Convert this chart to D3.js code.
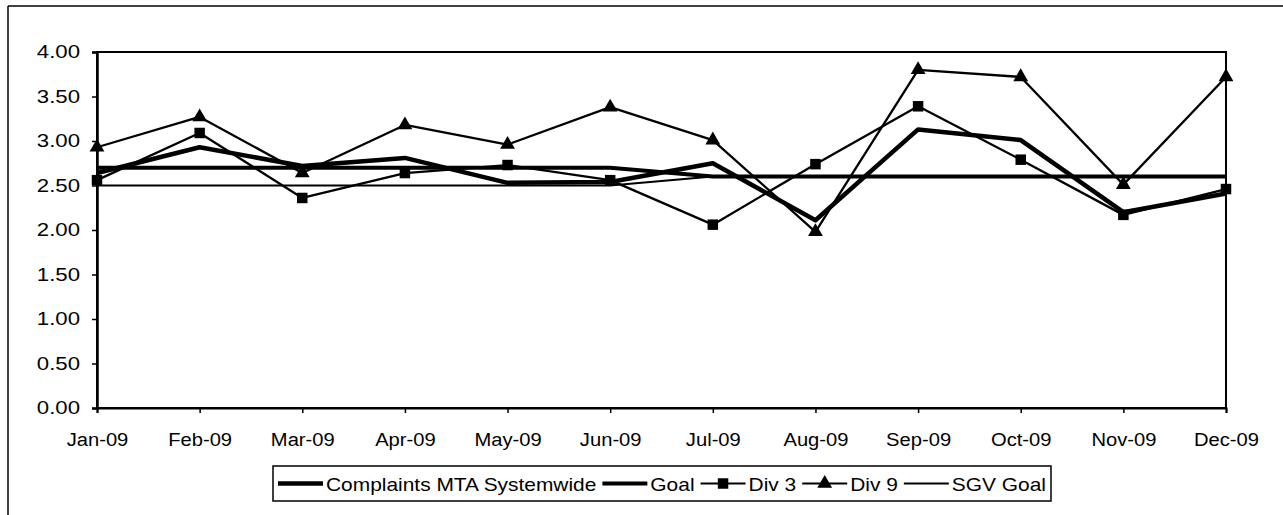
<!DOCTYPE html>
<html>
<head>
<meta charset="utf-8">
<script src="https://cdn.jsdelivr.net/npm/d3@7"></script>
<style>
  html, body { margin: 0; padding: 0; background: #fff; }
  svg { display: block; }
  text { font-family: "Liberation Sans", Arial, sans-serif; fill: #000; }
</style>
</head>
<body>
<svg id="chart" width="1283" height="515"></svg>
<script>
const months = ["Jan-09","Feb-09","Mar-09","Apr-09","May-09","Jun-09","Jul-09","Aug-09","Sep-09","Oct-09","Nov-09","Dec-09"];
const mtaSystemwide = [2.64, 2.93, 2.72, 2.81, 2.53, 2.54, 2.75, 2.11, 3.13, 3.01, 2.20, 2.41];
const goal          = [2.70, 2.70, 2.70, 2.70, 2.70, 2.70, 2.60, 2.60, 2.60, 2.60, 2.60, 2.60];
const div3          = [2.56, 3.09, 2.36, 2.64, 2.73, 2.56, 2.06, 2.74, 3.39, 2.79, 2.17, 2.46];
const div9          = [2.93, 3.27, 2.64, 3.18, 2.96, 3.38, 3.01, 1.98, 3.80, 3.72, 2.51, 3.72];
const sgvGoal       = [2.50, 2.50, 2.50, 2.50, 2.50, 2.50, 2.60, 2.60, 2.60, 2.60, 2.60, 2.60];
const yTicks = [0, 0.5, 1, 1.5, 2, 2.5, 3, 3.5, 4];
const legendLabels = ["Complaints MTA Systemwide", "Goal", "Div 3", "Div 9", "SGV Goal"];

const svg = d3.select("#chart");
const W = 1283, H = 515;
const plot = { left: 97, right: 1226, top: 52, bottom: 408 };

function stretchText(sel, factor) {
  let total = 0;
  sel.each(function() {
    const len = this.getComputedTextLength();
    total = len * factor;
    d3.select(this).attr("textLength", len * factor).attr("lengthAdjust", "spacingAndGlyphs");
  });
  return total;
}

// outer frame (scanned page border)
svg.append("line").attr("x1", 8).attr("y1", 6).attr("x2", W).attr("y2", 6).attr("stroke", "#000").attr("stroke-width", 1.5);
svg.append("line").attr("x1", 8).attr("y1", 6).attr("x2", 8).attr("y2", H).attr("stroke", "#000").attr("stroke-width", 1.5);

const x = d3.scalePoint().domain(months).range([plot.left, plot.right]);
const y = d3.scaleLinear().domain([0, 4]).range([plot.bottom, plot.top]);

// plot area border
svg.append("rect")
  .attr("x", plot.left).attr("y", plot.top)
  .attr("width", plot.right - plot.left).attr("height", plot.bottom - plot.top)
  .attr("fill", "none").attr("stroke", "#000").attr("stroke-width", 2);

// y axis
const yAxis = svg.append("g").attr("transform", `translate(${plot.left},0)`)
  .call(d3.axisLeft(y).tickValues(yTicks).tickFormat(d3.format(".2f")).tickSize(5).tickPadding(12));
yAxis.select(".domain").attr("stroke-width", 2.5);
yAxis.selectAll(".tick line").attr("stroke-width", 1.5);
yAxis.selectAll("text").attr("font-size", 18.5).attr("font-family", "Liberation Sans, Arial, sans-serif")
  .each(function() { stretchText(d3.select(this), 1.2); });

// x axis
const xAxis = svg.append("g").attr("transform", `translate(0,${plot.bottom})`)
  .call(d3.axisBottom(x).tickSize(5).tickPadding(20));
xAxis.select(".domain").attr("stroke-width", 2);
xAxis.selectAll(".tick line").attr("stroke-width", 1.5);
xAxis.selectAll("text").attr("font-size", 18).attr("font-family", "Liberation Sans, Arial, sans-serif")
  .each(function() { stretchText(d3.select(this), 1.12); });

const line = d3.line().x((d, i) => x(months[i])).y(d => y(d));

const series = [
  { name: legendLabels[4], values: sgvGoal, width: 2, marker: null },
  { name: legendLabels[1], values: goal, width: 4, marker: null },
  { name: legendLabels[3], values: div9, width: 2.3, marker: "triangle" },
  { name: legendLabels[2], values: div3, width: 2.3, marker: "square" },
  { name: legendLabels[0], values: mtaSystemwide, width: 4.5, marker: null },
];

const gLines = svg.append("g");
series.forEach(s => {
  gLines.append("path").datum(s.values).attr("d", line)
    .attr("fill", "none").attr("stroke", "#000").attr("stroke-width", s.width)
    .attr("stroke-linejoin", "round");
});

const sqSym = d3.symbol().type(d3.symbolSquare).size(110);
const triSym = d3.symbol().type(d3.symbolTriangle).size(95);
series.filter(s => s.marker).forEach(s => {
  gLines.selectAll(null).data(s.values).join("path")
    .attr("transform", (d, i) => `translate(${x(months[i])},${y(d)})`)
    .attr("d", s.marker === "square" ? sqSym() : triSym())
    .attr("fill", "#000");
});

// legend
const leg = svg.append("g");
const legTop = 466, legBottom = 501, legLeft = 273, legRight = 1051;
leg.append("rect").attr("x", legLeft).attr("y", legTop).attr("width", legRight - legLeft).attr("height", legBottom - legTop)
  .attr("fill", "#fff").attr("stroke", "#000").attr("stroke-width", 1.5);
const legMid = (legTop + legBottom) / 2;
const legItems = [
  { label: legendLabels[0], width: 4.5, marker: null },
  { label: legendLabels[1], width: 4, marker: null },
  { label: legendLabels[2], width: 2.2, marker: "square" },
  { label: legendLabels[3], width: 2.2, marker: "triangle" },
  { label: legendLabels[4], width: 2, marker: null },
];
const sampleLen = 45, gapAfterSample = 3, gapAfterText = 6;
const contentStart = legLeft + 5, contentEnd = legRight - 5;
// measure natural text widths
const texts = legItems.map(it => leg.append("text").attr("y", legMid + 7).attr("font-size", 19).text(it.label));
const natural = texts.map(t => t.node().getComputedTextLength());
const fixed = legItems.length * (sampleLen + gapAfterSample) + (legItems.length - 1) * gapAfterText;
const factor = (contentEnd - contentStart - fixed) / d3.sum(natural);
let cx = contentStart;
legItems.forEach((it, i) => {
  leg.append("line").attr("x1", cx).attr("x2", cx + sampleLen).attr("y1", legMid).attr("y2", legMid)
    .attr("stroke", "#000").attr("stroke-width", it.width);
  if (it.marker) {
    leg.append("path").attr("transform", `translate(${cx + sampleLen / 2},${legMid})`)
      .attr("d", it.marker === "square" ? sqSym() : triSym()).attr("fill", "#000");
  }
  cx += sampleLen + gapAfterSample;
  texts[i].attr("x", cx);
  const w = stretchText(texts[i], factor);
  cx += w + gapAfterText;
});
</script>
</body>
</html>
